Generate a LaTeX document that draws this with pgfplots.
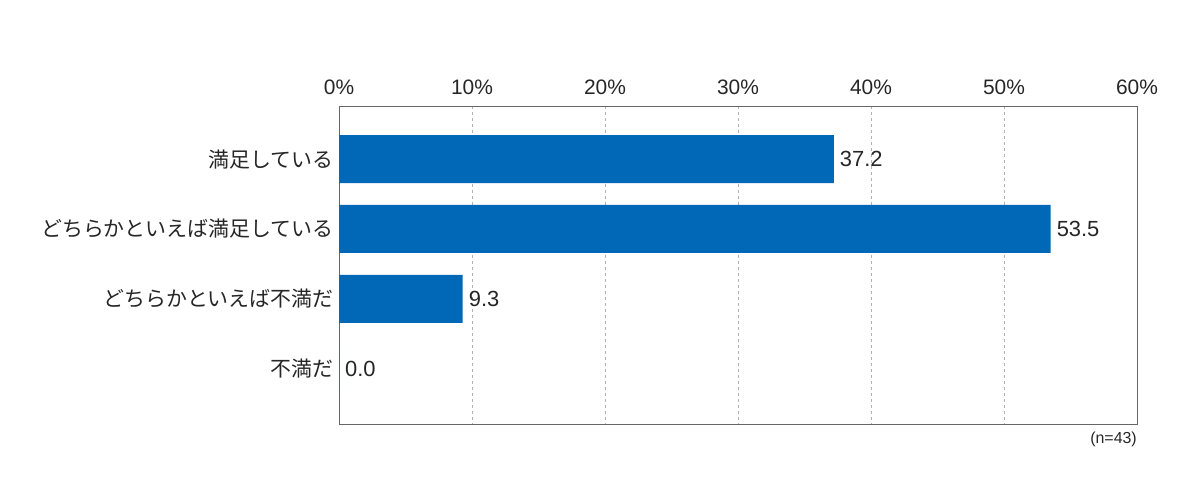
\documentclass[border=0pt]{standalone}
\usepackage{pgfplots}
\pgfplotsset{compat=1.18}
\usepackage{fontspec}
\setmainfont{Noto Sans CJK JP}
\newfontfamily\latinfont{Liberation Sans}
\definecolor{barblue}{HTML}{0068B7}
\begin{document}
\begin{tikzpicture}[x=1bp,y=1bp]
\useasboundingbox (0,0) rectangle (1200,497);
\begin{axis}[
  at={(339bp,73bp)}, anchor=south west,
  scale only axis, width=798bp, height=318bp,
  xbar, bar width=48bp,
  xmin=0, xmax=60, ymin=-0.76, ymax=3.79,
  y dir=reverse,
  xtick={0,10,...,60},
  xticklabel={\pgfmathprintnumber{\tick}\%},
  xticklabel pos=upper,
  xticklabel style={font=\latinfont\fontsize{21}{24}\selectfont, yshift=8bp, text=black!85},
  ytick={0,1,2,3},
  yticklabels={満足している,どちらかといえば満足している,どちらかといえば不満だ,不満だ},
  yticklabel style={font=\fontsize{21}{24}\selectfont, xshift=-2bp, text=black!85},
  major tick length=0pt,
  axis line style={draw=gray!80!black, line width=0.8pt},
  xmajorgrids, grid style={dashed, gray!60, line width=0.6pt},
  /pgf/number format/assume math mode=true,
  nodes near coords={\pgfmathprintnumber[fixed,fixed zerofill,precision=1]{\pgfplotspointmeta}},
  nodes near coords style={font=\latinfont\fontsize{22}{26}\selectfont, anchor=west, inner sep=1bp, xshift=5bp, text=black!85},
  point meta=explicit,
  clip=false,
]
\addplot[fill=barblue, draw=none] coordinates {(37.2,0) [37.2] (53.5,1) [53.5] (9.3,2) [9.3] (0,3) [0.0]};
\end{axis}
\node[anchor=north east, font=\latinfont\fontsize{16}{19}\selectfont, inner sep=0pt, text=black!85] at (1137,65) {(n=43)};
\end{tikzpicture}
\end{document}
